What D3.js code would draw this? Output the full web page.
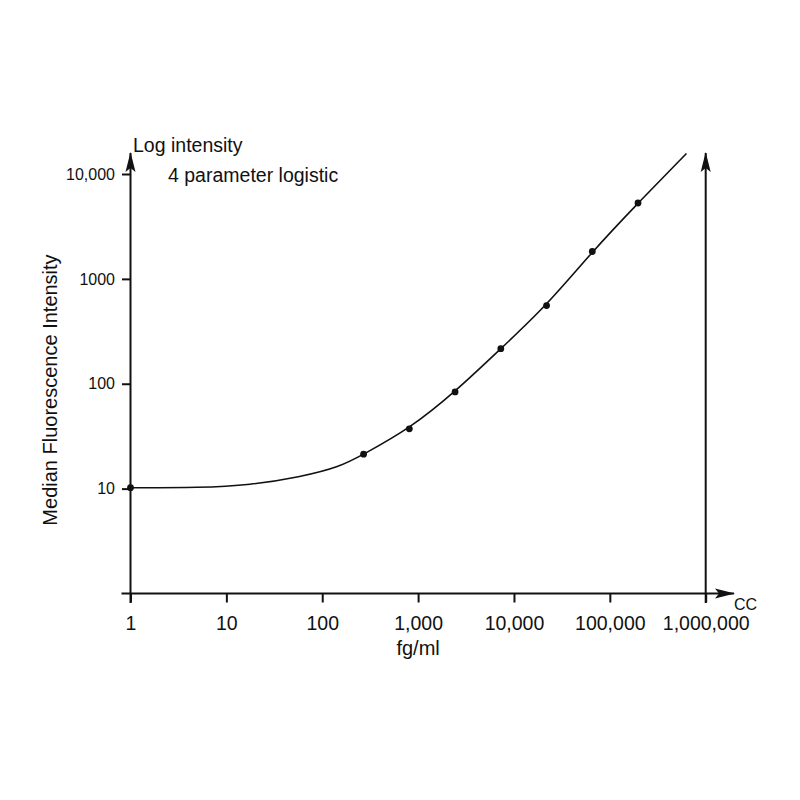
<!DOCTYPE html>
<html>
<head>
<meta charset="utf-8">
<script src="https://cdn.jsdelivr.net/npm/d3@7"></script>
<style>
  body { margin: 0; background: #fff; }
  svg { display: block; }
  text { font-family: "Liberation Sans", Arial, sans-serif; fill: #111; }
</style>
</head>
<body>
<svg id="chart" width="800" height="800"></svg>
<script>
// ---- Data ----
const concentrations = [1, 270, 810, 2430, 7290, 21870, 65610, 196830];          // fg/ml
const intensities    = [10.2, 21.3, 37.2, 83.5, 216, 556, 1825, 5290];           // MFI
const curveX = [1, 5.3, 17.7, 58.5, 153, 270, 810, 2430, 7290, 21870, 65610, 196830, 630000];
const curveY = [10.2, 10.2, 10.8, 12.9, 16.1, 21.3, 37.2, 83.5, 216, 556, 1825, 5290, 15700];
const xTickValues = [1, 10, 100, 1000, 10000, 100000, 1000000];
const xTickLabels = ["1", "10", "100", "1,000", "10,000", "100,000", "1,000,000"];
const yTickValues = [10, 100, 1000, 10000];
const yTickLabels = ["10", "100", "1000", "10,000"];

const svg = d3.select("#chart");
const ink = "#111";

const x = d3.scaleLog().domain([1, 1e6]).range([130.5, 705.7]);
const y = d3.scaleLog().domain([1, 1e4]).range([593.5, 174]);

// arrowhead marker
const defs = svg.append("defs");
defs.append("marker")
  .attr("id", "arrow")
  .attr("viewBox", "0 0 20 12")
  .attr("refX", 19).attr("refY", 6)
  .attr("markerWidth", 20).attr("markerHeight", 12)
  .attr("markerUnits", "userSpaceOnUse")
  .attr("orient", "auto")
  .append("path")
  .attr("d", "M0,1 L20,6 L0,11 L4,6 Z")
  .attr("fill", ink);

const axisY0 = y(1);

// x axis line
svg.append("line")
  .attr("x1", 121.5).attr("x2", 734)
  .attr("y1", axisY0).attr("y2", axisY0)
  .attr("stroke", ink).attr("stroke-width", 2)
  .attr("marker-end", "url(#arrow)");

// y axis line
svg.append("line")
  .attr("x1", x(1)).attr("x2", x(1))
  .attr("y1", 603).attr("y2", 153)
  .attr("stroke", ink).attr("stroke-width", 2)
  .attr("marker-end", "url(#arrow)");

// right vertical arrow at 1,000,000
svg.append("line")
  .attr("x1", x(1e6)).attr("x2", x(1e6))
  .attr("y1", 603).attr("y2", 153)
  .attr("stroke", ink).attr("stroke-width", 2)
  .attr("marker-end", "url(#arrow)");

// x ticks
const xAxis = d3.axisBottom(x)
  .tickValues(xTickValues)
  .tickSize(9)
  .tickPadding(14)
  .tickFormat((d, i) => xTickLabels[i]);
const gx = svg.append("g").attr("transform", `translate(0,${axisY0})`).call(xAxis);
gx.select(".domain").remove();
gx.selectAll(".tick line").attr("stroke", ink).attr("stroke-width", 2);
gx.selectAll(".tick text")
  .style("font-size", "19.5px")
  .attr("fill", ink);

// y ticks
const yAxis = d3.axisLeft(y)
  .tickValues(yTickValues)
  .tickSize(8.5)
  .tickPadding(7)
  .tickFormat((d, i) => yTickLabels[i]);
const gy = svg.append("g").attr("transform", `translate(${x(1)},0)`).call(yAxis);
gy.select(".domain").remove();
gy.selectAll(".tick line").attr("stroke", ink).attr("stroke-width", 2);
gy.selectAll(".tick text")
  .style("font-size", "16px")
  .attr("fill", ink);

// fitted curve
const curvePts = curveX.map((v, i) => [v, curveY[i]]);
svg.append("path")
  .datum(curvePts)
  .attr("fill", "none")
  .attr("stroke", ink)
  .attr("stroke-width", 1.6)
  .attr("d", d3.line().x(d => x(d[0])).y(d => y(d[1])).curve(d3.curveBasis));

// data points
svg.append("g").selectAll("circle")
  .data(concentrations.map((c, i) => [c, intensities[i]]))
  .join("circle")
  .attr("cx", d => x(d[0]))
  .attr("cy", d => y(d[1]))
  .attr("r", 3.4)
  .attr("fill", ink);

// labels
svg.append("text")
  .attr("x", 133).attr("y", 152)
  .style("font-size", "19.5px")
  .text("Log intensity");

svg.append("text")
  .attr("x", 168).attr("y", 182)
  .style("font-size", "19.5px")
  .text("4 parameter logistic");

svg.append("text")
  .attr("x", x(1000)).attr("y", 655)
  .attr("text-anchor", "middle")
  .style("font-size", "20px")
  .text("fg/ml");

svg.append("text")
  .attr("x", 734).attr("y", 610)
  .style("font-size", "16px")
  .text("CC");

svg.append("text")
  .attr("transform", "translate(57,390) rotate(-90)")
  .attr("text-anchor", "middle")
  .style("font-size", "20px")
  .text("Median Fluorescence Intensity");
</script>
</body>
</html>
